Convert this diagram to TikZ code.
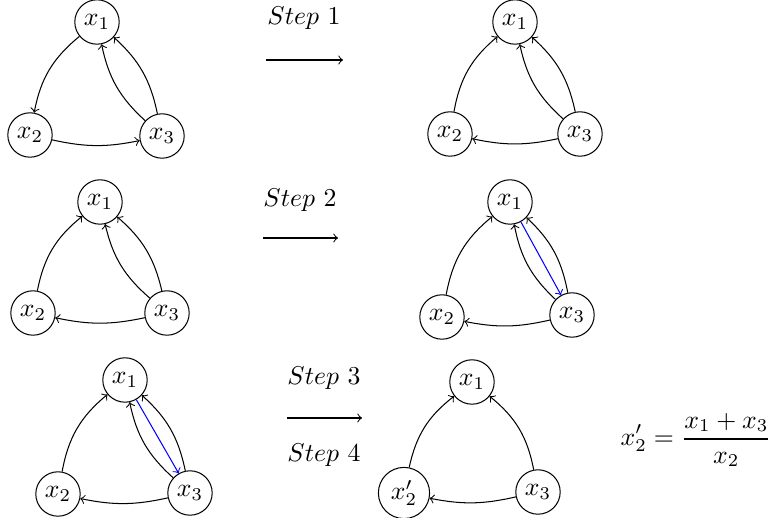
\documentclass[tikz,border=0pt]{standalone}
\begin{document}
\begin{tikzpicture}[x=0.388pt,y=-0.388pt,
  vtx/.style={circle,draw,inner sep=2pt},
  arr/.style={->},
  barr/.style={->,blue},
  lbl/.style={inner sep=0pt}]
\useasboundingbox (0,0) rectangle (778,518);
% Row 1 A
\node[vtx] (a1) at (97,22) {$x_1$};
\node[vtx] (a2) at (30,135) {$x_2$};
\node[vtx] (a3) at (162,136) {$x_3$};
\draw[arr] (a1) to[bend right=20] (a2);
\draw[arr] (a2) to[bend right=12] (a3);
\draw[arr] (a3) to[bend left=18] (a1);
\draw[arr] (a3) to[bend right=18] (a1);
% Step 1
\node[lbl] (s1) at (304,18) {$Step\ 1$};
\coordinate (s1a) at (266,60);
\coordinate (s1b) at (343,60);
\draw[arr] (s1a) -- (s1b);
% Row 1 B
\node[vtx] (b1) at (515,22) {$x_1$};
\node[vtx] (b2) at (450,134) {$x_2$};
\node[vtx] (b3) at (580,134) {$x_3$};
\draw[arr] (b2) to[bend left=20] (b1);
\draw[arr] (b3) to[bend left=12] (b2);
\draw[arr] (b3) to[bend left=18] (b1);
\draw[arr] (b3) to[bend right=18] (b1);
% Row 2 A
\node[vtx] (c1) at (100,202) {$x_1$};
\node[vtx] (c2) at (33,313) {$x_2$};
\node[vtx] (c3) at (167,313) {$x_3$};
\draw[arr] (c2) to[bend left=20] (c1);
\draw[arr] (c3) to[bend left=12] (c2);
\draw[arr] (c3) to[bend left=18] (c1);
\draw[arr] (c3) to[bend right=18] (c1);
% Step 2
\node[lbl] (s2) at (300,200) {$Step\ 2$};
\coordinate (s2a) at (263,238);
\coordinate (s2b) at (338,238);
\draw[arr] (s2a) -- (s2b);
% Row 2 B
\node[vtx] (d1) at (510,202) {$x_1$};
\node[vtx] (d2) at (442,317) {$x_2$};
\node[vtx] (d3) at (572,315) {$x_3$};
\draw[arr] (d2) to[bend left=20] (d1);
\draw[arr] (d3) to[bend left=12] (d2);
\draw[arr] (d3) to[bend left=18] (d1);
\draw[arr] (d3) to[bend right=18] (d1);
\draw[barr] (d1) -- (d3);
% Row 3 A
\node[vtx] (e1) at (125,380) {$x_1$};
\node[vtx] (e2) at (58,494) {$x_2$};
\node[vtx] (e3) at (190,493) {$x_3$};
\draw[arr] (e2) to[bend left=20] (e1);
\draw[arr] (e3) to[bend left=12] (e2);
\draw[arr] (e3) to[bend left=18] (e1);
\draw[arr] (e3) to[bend right=18] (e1);
\draw[barr] (e1) -- (e3);
% Steps 3 and 4
\node[lbl] (s3) at (324,378) {$Step\ 3$};
\coordinate (s3a) at (287,418);
\coordinate (s3b) at (362,418);
\draw[arr] (s3a) -- (s3b);
\node[lbl] (s4) at (324,455) {$Step\ 4$};
% Row 3 B
\node[vtx] (f1) at (472,382) {$x_1$};
\node[vtx] (f2) at (404,493) {$x_2'$};
\node[vtx] (f3) at (538,492) {$x_3$};
\draw[arr] (f2) to[bend left=20] (f1);
\draw[arr] (f3) to[bend left=12] (f2);
\draw[arr] (f3) to[bend right=20] (f1);
% formula
\node[lbl] (eq) at (696,440) {$\displaystyle x_2'=\frac{x_1+x_3}{x_2}$};
\end{tikzpicture}
\end{document}
